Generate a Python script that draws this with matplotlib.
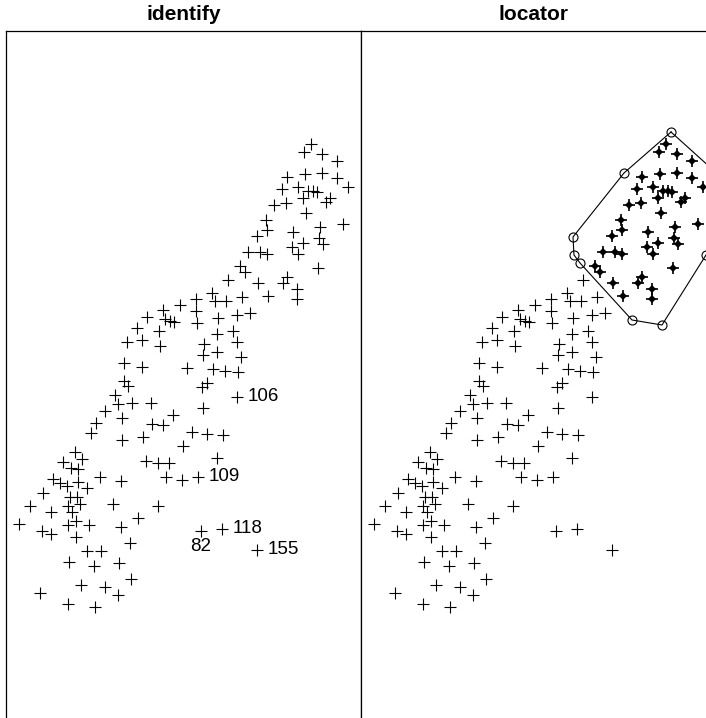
import matplotlib
matplotlib.use('Agg')
import matplotlib.pyplot as plt
from matplotlib.path import Path
import numpy as np

plt.rcParams['font.family'] = ['Liberation Sans', 'DejaVu Sans']

# point cloud (same data in both panels), y grows downward
x = [311, 304, 322, 337, 287, 305, 322, 337, 348, 282, 298, 308, 313, 317, 303,
     330, 326, 274, 286, 306, 266, 267, 257, 343, 320, 293, 319, 323, 303, 292,
     248, 260, 267, 298,
     240, 245, 228, 258, 268, 212, 215, 226, 242, 196, 180, 196, 163, 147, 165,
     170, 174, 197, 218, 237, 250, 137, 159, 217, 233, 237, 127, 142, 160, 204,
     203, 217, 241, 124, 142, 187, 213, 225, 238, 124, 128, 202, 207,
     318, 287, 283, 297, 297,
     115, 118, 132, 151, 105, 173, 122, 96, 152, 163, 91, 122, 143, 75, 82, 63,
     71, 78, 146, 158, 169, 53, 60, 67, 78, 87, 100, 121, 43, 166, 70, 77, 30,
     68, 80, 113, 158,
     237, 203, 192, 207, 223, 183, 217, 182, 198,
     51, 72, 19, 42, 51, 68, 76, 89, 121, 138, 76, 130, 87, 101, 69, 94, 119,
     131, 81, 105, 118, 40, 68, 95,
     201, 222, 257]
y = [144, 152, 154, 161, 177, 174, 173, 178, 187, 189, 187, 191, 191, 192, 198,
     198, 202, 205, 203, 213, 220, 230, 236, 224, 227, 232, 238, 244, 243, 247,
     252, 252, 254, 254,
     266, 272, 280, 283, 296, 293, 301, 301, 297, 299, 305, 311, 310, 317, 319,
     321, 322, 323, 318, 315, 313, 328, 331, 334, 331, 342, 342, 340, 346, 344,
     355, 352, 357, 363, 367, 368, 369, 371, 372, 381, 386, 387, 383,
     268, 277, 283, 289, 299,
     395, 404, 403, 403, 411, 415, 418, 423, 424, 425, 433, 440, 437, 452, 459, 462,
     468, 469, 461, 463, 463, 479, 483, 486, 482, 488, 477, 481, 493, 477, 497, 497, 506,
     506, 504, 504, 506,
     397, 408, 432, 434, 435, 446, 458, 480, 477,
     512, 512, 524, 531, 534, 525, 521, 525, 527, 518, 537, 543, 551, 551, 562, 566, 563,
     579, 585, 587, 595, 593, 604, 607,
     531, 529, 550]

# points picked with identify()
id_x = [237, 198, 222, 201, 257]
id_y = [397, 477, 529, 531, 550]
id_lab = ['106', '109', '118', '82', '155']
id_side = ['right', 'right', 'right', 'below', 'right']

# polygon clicked with locator()
poly_x = [316, 269, 218, 219, 225, 277, 307, 351, 370, 367, 316]
poly_y = [132, 173, 237, 255, 263, 320, 325, 255, 225, 178, 132]

W, H = 706, 718
fig = plt.figure(figsize=(W / 100, H / 100), dpi=100)
top, bot = 31, 760
axes = []
for left in [6, 361]:
    ax = fig.add_axes([left / W, 1 - bot / H, 355 / W, (bot - top) / H])
    ax.set_xlim(6, 361)
    ax.set_ylim(bot, top)
    ax.set_xticks([]); ax.set_yticks([])
    for s in ax.spines.values():
        s.set_linewidth(0.9)
    axes.append(ax)

pk = dict(ls='none', marker='+', ms=8.8, mew=0.8, color='black')

# identify panel
ax = axes[0]
ax.plot(x, y, **pk)
for px, py, lab, side in zip(id_x, id_y, id_lab, id_side):
    if side == 'right':
        ax.annotate(lab, (px, py), xytext=(7.5, 0), textcoords='offset points',
                    ha='left', va='center', fontsize=13.5)
    else:
        ax.annotate(lab, (px, py), xytext=(0, -11.5), textcoords='offset points',
                    ha='center', va='center', fontsize=13.5)
fig.text(183.5 / W, 1 - 15 / H, 'identify', ha='center', va='center',
         fontsize=15, fontweight='bold')

# locator panel
ax = axes[1]
pts = np.column_stack([x, y])
inside = Path(np.column_stack([poly_x, poly_y])).contains_points(pts)
xs, ys = np.array(x), np.array(y)
ax.plot(xs[~inside], ys[~inside], **pk)
ax.plot(xs[inside], ys[inside], ls='none', marker='+', ms=8.8, mew=1.2, color='black')
ax.plot(xs[inside], ys[inside], ls='none', marker='D', ms=4, color='black', mew=0)
ax.plot(poly_x, poly_y, color='black', lw=0.8)
ax.plot(poly_x[:-1], poly_y[:-1], ls='none', marker='o', ms=6.5, mfc='none',
        mec='black', mew=0.8)
fig.text(534 / W, 1 - 15 / H, 'locator', ha='center', va='center',
         fontsize=15, fontweight='bold')

fig.savefig('out.png', dpi=100)
